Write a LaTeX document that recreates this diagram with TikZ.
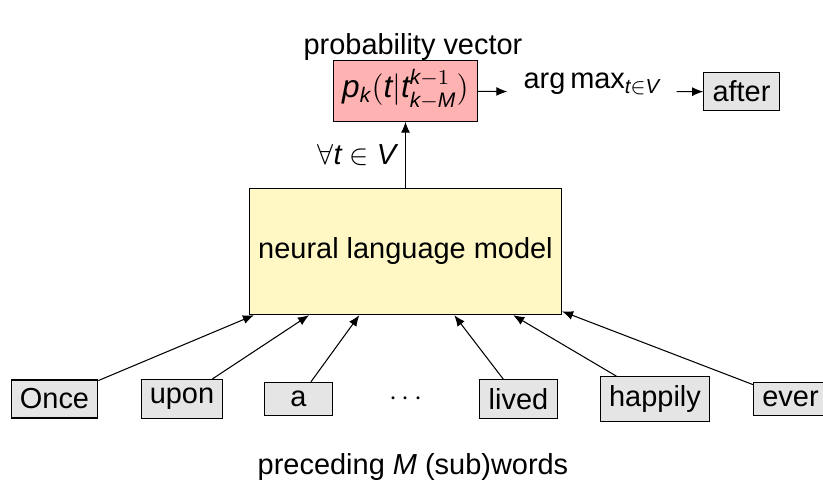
\documentclass[tikz,border=0pt]{standalone}
\usepackage{fontspec}
\setmainfont{Liberation Sans}[NFSSFamily=libsans]
% sans italic letters in math, as on a beamer slide
\SetSymbolFont{letters}{normal}{TU}{libsans}{m}{it}
\DeclareSymbolFont{operators}{TU}{libsans}{m}{n}
\usetikzlibrary{arrows.meta}
\begin{document}
\begin{tikzpicture}[x = 0.38pt, y = -0.38pt, font = \fontsize{11}{13}\selectfont,
	>= {Latex[length = 4.2pt, width = 3.4pt]},
	word/.style = {draw, fill = gray!20},
	model/.style = {draw, fill = {rgb,255:red,255;green,248;blue,196}, minimum height = 48pt},
	probbox/.style = {draw, fill = red!30, font = \fontsize{12}{14}\selectfont, minimum height = 22.5pt}]
	\useasboundingbox (0,0) rectangle (823,493);
	\node (title) at (413,47) {probability vector};
	\node [probbox] (prob) at (405.5,91) {$p_k(t|t^{k-1}_{\vphantom{(}k-M})$};
	\node [inner xsep = 6pt, text height = 5pt, text depth = 7.5pt] (argmax) at (592,92) {$\arg\max_{t\in V}$};
	\node [word] (after) at (741.5,91.5) {after};
	\node [model] (lm) at (405.5,251.5) {neural language model};
	\node [word] (once) at (54.5,399) {Once};
	\node [word] (upon) at (182,399) {upon};
	\node [word, minimum width = 25.5pt] (a) at (298.5,399) {a};
	\node (dots) at (406,399) {$\cdots$};
	\node [word] (lived) at (518.5,399) {lived};
	\node [word] (happily) at (655,399) {happily};
	\node [word] (ever) at (790.5,399) {ever};
	\node (caption) at (413,467) {preceding $M$ (sub)words};
	\draw [->] (lm) -- node [left] {$\forall t\in V$} (prob);
	\draw [->] (prob) -- (argmax);
	\draw [->] (argmax) -- (after);
	\foreach \w in {once, upon, a, lived, happily, ever}
		\draw [->] (\w) -- (lm);
\end{tikzpicture}
\end{document}
